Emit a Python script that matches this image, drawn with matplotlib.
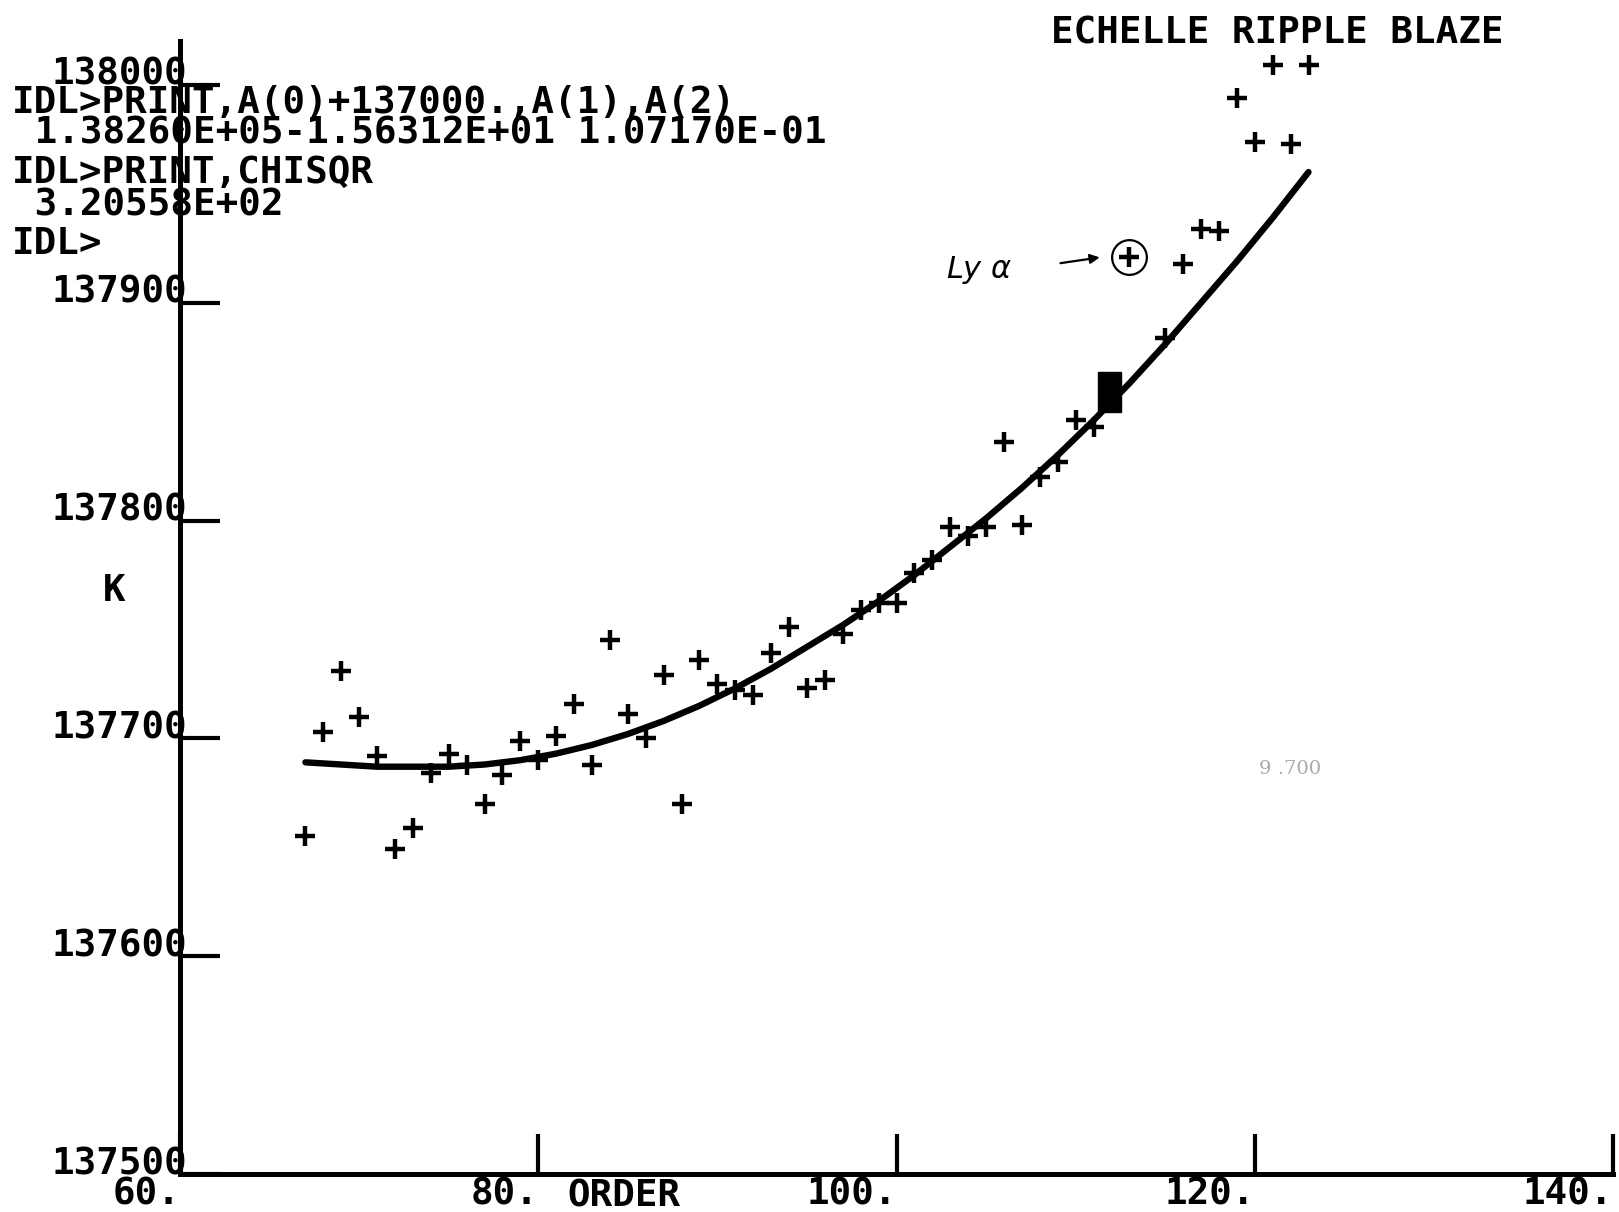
###########################################################################
# Echelle ripple blaze : K versus order, with quadratic fit from IDL
###########################################################################

import matplotlib
matplotlib.use('Agg')
import matplotlib.pyplot as plt
from matplotlib.patches import Rectangle

# measured points (order, K)
order = [67, 68, 69, 70, 71, 72, 73, 74, 75, 76, 77, 78, 79, 80, 81, 82, 83,
         84, 85, 86, 87, 88, 89, 90, 91, 92, 93, 94, 95, 96, 97, 98, 99, 100,
         101, 102, 103, 104, 105, 106, 107, 108, 109, 110, 111, 112, 113, 115,
         116, 117, 118, 119, 120, 121, 122, 123]
k_val = [137655, 137703, 137731, 137710, 137692, 137649, 137659, 137684,
         137693, 137688, 137670, 137683, 137699, 137690, 137701, 137716,
         137688, 137745, 137711, 137700, 137729, 137670, 137736, 137725,
         137722, 137720, 137739, 137751, 137723, 137727, 137748, 137759,
         137762, 137762, 137776, 137782, 137797, 137793, 137797, 137836,
         137798, 137820, 137827, 137846, 137843, 137859, 137921, 137884,
         137918, 137934, 137933, 137994, 137974, 138009, 137973, 138009]

# fitted curve
fit_order = [67, 69, 71, 73, 75, 77, 79, 81, 83, 85, 87, 89, 91, 93, 95, 97,
             99, 101, 103, 105, 107, 109, 111, 113, 115, 117, 119, 121, 123]
fit_k = [137689, 137688, 137687, 137687, 137687, 137688, 137690, 137693,
         137697, 137702, 137708, 137715, 137723, 137732, 137742, 137752,
         137763, 137775, 137788, 137801, 137815, 137830, 137846, 137863,
         137881, 137900, 137919, 137939, 137960]

xticks = [60, 80, 100, 120, 140]
xticklabels = ['60.', '80.', '100.', '120.', '140.']
yticks = [137500, 137600, 137700, 137800, 137900, 138000]
yticklabels = ['137500', '137600', '137700', '137800', '137900', '138000']

lya_order = 113
lya_k = 137921

idl_lines = ['IDL>PRINT,A(0)+137000.,A(1),A(2)',
             ' 1.38260E+05-1.56312E+01 1.07170E-01',
             'IDL>PRINT,CHISQR',
             ' 3.20558E+02',
             'IDL>']

#############################################################################

mono = 'DejaVu Sans Mono'
fs = 27

fig = plt.figure(figsize=(16.19, 12.12), dpi=100)
ax = fig.add_axes([0.1112, 0.03135, 0.8851, 0.9345])

ax.plot(fit_order, fit_k, color='black', linewidth=4.6,
        solid_capstyle='round', solid_joinstyle='round', zorder=2)
ax.plot(order, k_val, linestyle='none', marker='+', markersize=15,
        markeredgewidth=3.2, color='black', zorder=3)

# the blacked out box on the curve
ax.add_patch(Rectangle((111.25, 137850), 1.3, 18, facecolor='black',
                       edgecolor='black', zorder=4))

# hand written Ly alpha note
ax.plot([lya_order], [lya_k], marker='o', markersize=25, markerfacecolor='none',
        markeredgewidth=1.6, color='black', zorder=4)
ax.annotate('', xy=(111.5, 137921), xytext=(109.0, 137918),
            arrowprops=dict(arrowstyle='-|>', color='black', lw=1.6,
                            mutation_scale=14))
ax.text(104.6, 137915, r'$\mathit{Ly}\ \alpha$', fontsize=22, ha='center',
        va='center', family='DejaVu Serif')

ax.set_xlim(60, 140)
ax.set_ylim(137500, 138020)

for s in ['top', 'right']:
    ax.spines[s].set_visible(False)
for s in ['left', 'bottom']:
    ax.spines[s].set_linewidth(3.6)

ax.set_xticks(xticks)
ax.set_xticklabels(xticklabels, family=mono, fontweight='bold', fontsize=fs)
ax.set_yticks(yticks)
ax.set_yticklabels(yticklabels, family=mono, fontweight='bold', fontsize=fs)
ax.tick_params(axis='x', direction='in', length=29, width=3, pad=2)
ax.tick_params(axis='y', direction='in', length=29, width=3, pad=-5)
plt.setp(ax.get_xticklabels(), ha='right')
plt.setp(ax.get_yticklabels(), va='baseline')

ax.annotate('ORDER', xy=(84.8, 137500), xytext=(0, -16),
            textcoords='offset points', ha='center', va='center',
            family=mono, fontweight='bold', fontsize=fs)
fig.text(114/1619., 1-591/1212., 'K', family=mono, fontsize=fs,
         fontweight='bold', ha='center', va='center')

fig.text(1277/1619., 1-33/1212., 'ECHELLE RIPPLE BLAZE', family=mono,
         fontsize=27, fontweight='bold', ha='center', va='center')

line_y = [103, 134, 173, 206, 244]
for txt, yy in zip(idl_lines, line_y):
    fig.text(12/1619., 1-yy/1212., txt, family=mono, fontsize=fs,
             fontweight='bold', ha='left', va='center')

fig.text(1290/1619., 1-769/1212., '9 .700', family='DejaVu Serif',
         fontsize=14, color='#aaaaaa', ha='center', va='center')

fig.savefig('out.png', dpi=100, facecolor='white')
